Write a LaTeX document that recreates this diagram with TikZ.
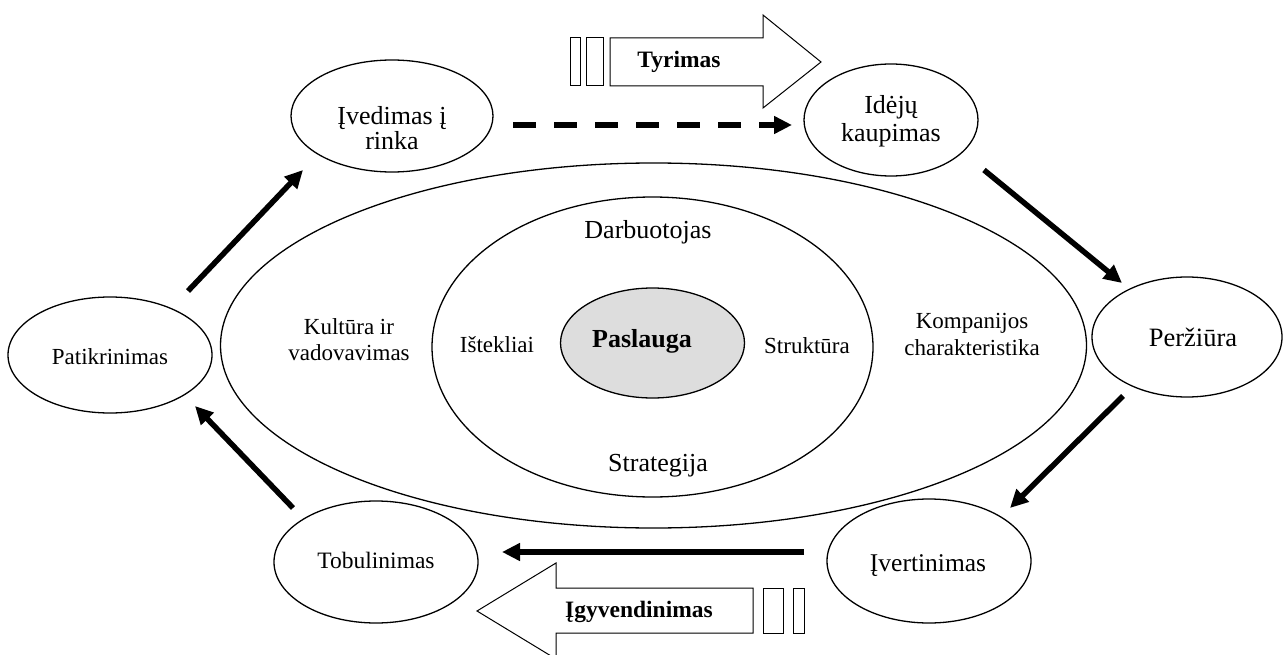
\documentclass[tikz,border=0pt]{standalone}
\usepackage{fontspec}
\setmainfont{Liberation Serif}
\usetikzlibrary{shapes.geometric,arrows.meta}
\definecolor{coregray}{RGB}{221,221,221}
\begin{document}
\begin{tikzpicture}[x=1pt,y=-1pt,
  stage/.style={draw, ellipse, line width=1.3pt, inner sep=0pt},
  big/.style={align=center, font=\fontsize{26}{27}\selectfont},
  mid/.style={align=center, font=\fontsize{23}{26}\selectfont},
  flow/.style={line width=5.5pt, -{Triangle[length=18pt,width=17pt]}},
  block/.style={draw, line width=1pt, fill=white},
  blocktext/.style={font=\fontsize{23.5}{26}\selectfont\bfseries},
]
\clip (0,0) rectangle (1287,655);

% concentric ellipses in the middle
\node[stage, minimum width=866pt, minimum height=365pt] (outer) at (653.5,345.5) {};
\node[stage, minimum width=441pt, minimum height=300pt] (inner) at (652.5,347) {};
\node[stage, fill=coregray, minimum width=184pt, minimum height=110pt] (core) at (652.5,343) {};

% the six stages of the cycle
\node[stage, minimum width=202pt, minimum height=112pt] (ived)  at (392,116) {};
\node[stage, minimum width=174pt, minimum height=112pt] (ideju) at (891,120) {};
\node[stage, minimum width=190pt, minimum height=120pt] (perz)  at (1187,337) {};
\node[stage, minimum width=204pt, minimum height=124pt] (ivert) at (929,561) {};
\node[stage, minimum width=204pt, minimum height=122pt] (tob)   at (376,562) {};
\node[stage, minimum width=204pt, minimum height=116pt] (pat)   at (110,355) {};

% stage labels
\node[big, font=\fontsize{26}{25}\selectfont] (tived) at (392,128) {Įvedimas į\\rinka};
\node[big, font=\fontsize{26}{28}\selectfont] (tideju) at (891,121) {Idėjų\\kaupimas};
\node[font=\fontsize{26.5}{28}\selectfont] (tperz) at (1193,337) {Peržiūra};
\node[font=\fontsize{25.5}{27}\selectfont] (tivert) at (928,566) {Įvertinimas};
\node[font=\fontsize{23.5}{25}\selectfont] (ttob) at (376,560) {Tobulinimas};
\node[mid] (tpat) at (110,357) {Patikrinimas};

% labels inside the rings
\node[mid] (tkult) at (349,340) {Kultūra ir\\vadovavimas};
\node[mid, font=\fontsize{23}{27}\selectfont] (tkomp) at (972,334) {Kompanijos\\charakteristika};
\node[big] (tdarb) at (648,232) {Darbuotojas};
\node[mid] (tist) at (497,345) {Ištekliai};
\node[mid] (tstrukt) at (807,346) {Struktūra};
\node[big] (tstrat) at (658,466) {Strategija};
\node[font=\fontsize{26}{28}\selectfont\bfseries] (tpasl) at (642,341) {Paslauga};

% arrow end points around the cycle
\coordinate (a1s) at (188,291);  \coordinate (a1e) at (303,170);
\coordinate (a2s) at (513,125);  \coordinate (a2e) at (792,125);
\coordinate (a3s) at (984,170);  \coordinate (a3e) at (1122,283);
\coordinate (a4s) at (1123,396); \coordinate (a4e) at (1010,508);
\coordinate (a5s) at (804,552);  \coordinate (a5e) at (502,552);
\coordinate (a6s) at (293,508);  \coordinate (a6e) at (195,406);

\draw[flow] (a1s) -- (a1e);
\draw[flow, dash pattern=on 23pt off 18pt] (a2s) -- (a2e);
\draw[flow] (a3s) -- (a3e);
\draw[flow] (a4s) -- (a4e);
\draw[flow] (a5s) -- (a5e);
\draw[flow] (a6s) -- (a6e);

% block arrow: research
\draw[block] (570,38) rectangle (580,86);
\draw[block] (586,38) rectangle (603,86);
\draw[block] (610,38) -- (763,38) -- (763,15) -- (821,62) -- (763,108) -- (763,86) -- (610,86) -- cycle;
\node[blocktext] (tyr) at (679,62) {Tyrimas};

% block arrow: implementation
\draw[block] (763,588) rectangle (783,633);
\draw[block] (793,588) rectangle (804,633);
\draw[block] (753,588) -- (556,588) -- (556,563) -- (477,611) -- (556,659) -- (556,633) -- (753,633) -- cycle;
\node[blocktext] (igyv) at (639,612) {Įgyvendinimas};
\end{tikzpicture}
\end{document}
